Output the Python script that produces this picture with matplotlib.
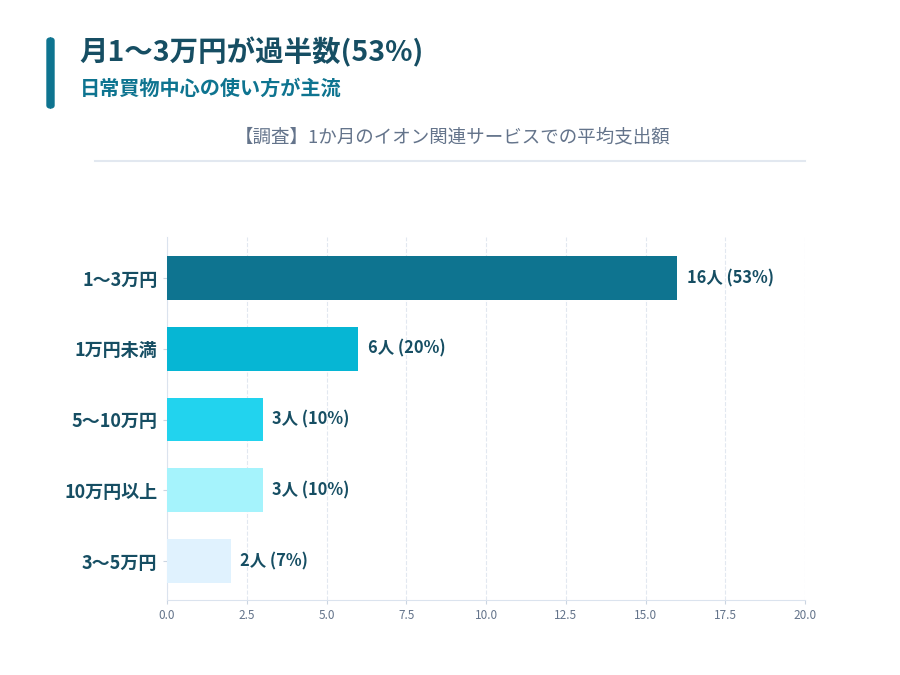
import matplotlib
matplotlib.use("Agg")
import matplotlib.pyplot as plt
from matplotlib.patches import FancyBboxPatch

plt.rcParams['font.family'] = ['Noto Sans CJK JP', 'DejaVu Sans']

categories = ['1〜3万円', '1万円未満', '5〜10万円', '10万円以上', '3〜5万円']
counts = [16, 6, 3, 3, 2]
labels = ['16人 (53%)', '6人 (20%)', '3人 (10%)', '3人 (10%)', '2人 (7%)']
colors = ['#0e7490', '#06b6d4', '#22d3ee', '#a5f3fc', '#e0f2fe']

title = '月1〜3万円が過半数(53%)'
subtitle = '日常買物中心の使い方が主流'
chart_title = '【調査】1か月のイオン関連サービスでの平均支出額'

dark = '#164e63'
gray = '#64748b'

fig = plt.figure(figsize=(9, 6.75), dpi=100)

# header
fig.patches.append(FancyBboxPatch((47 / 900, 1 - 108 / 675), 7 / 900, 70 / 675,
                                  boxstyle='round,pad=0,rounding_size=0.004',
                                  transform=fig.transFigure, color='#0e7490'))
fig.text(79 / 900, 1 - 52 / 675, title, fontsize=20.5, fontweight='bold',
         color=dark, va='center', ha='left')
fig.text(80 / 900, 1 - 88 / 675, subtitle, fontsize=14.5, fontweight='bold',
         color='#0e7490', va='center', ha='left')
fig.text(453 / 900, 1 - 137 / 675, chart_title, fontsize=13.3,
         color=gray, va='center', ha='center')
fig.add_artist(plt.Line2D([95 / 900, 805 / 900], [1 - 161 / 675, 1 - 161 / 675],
                          transform=fig.transFigure, color='#e2e8f0', lw=1.5))

ax = fig.add_axes([167 / 900, 75 / 675, 638 / 900, 363 / 675])
y = list(range(len(categories)))
ax.barh(y, counts, height=0.62, color=colors, zorder=3)
for yi, c, lab in zip(y, counts, labels):
    ax.text(c + 0.3, yi, lab, va='center', ha='left', fontsize=11.8,
            fontweight='bold', color=dark)

ax.set_xlim(0, 20)
ax.set_ylim(4.55, -0.58)
ax.set_yticks(y)
ax.set_yticklabels(categories, fontsize=13, fontweight='bold')
ax.set_xticks([0, 2.5, 5, 7.5, 10, 12.5, 15, 17.5, 20])
ax.set_xticklabels(['0.0', '2.5', '5.0', '7.5', '10.0', '12.5', '15.0', '17.5', '20.0'])
ax.tick_params(axis='x', labelsize=8.5, colors='#cbd5e1', labelcolor=gray, length=3)
ax.tick_params(axis='y', colors='#cbd5e1', labelcolor=dark, length=3, pad=4)
ax.grid(axis='x', linestyle='--', color='#e2e8f0', lw=0.8, zorder=0)
for s in ['top', 'right']:
    ax.spines[s].set_visible(False)
for s in ['left', 'bottom']:
    ax.spines[s].set_color('#dbe3ee')

fig.savefig('out.png', dpi=100)
